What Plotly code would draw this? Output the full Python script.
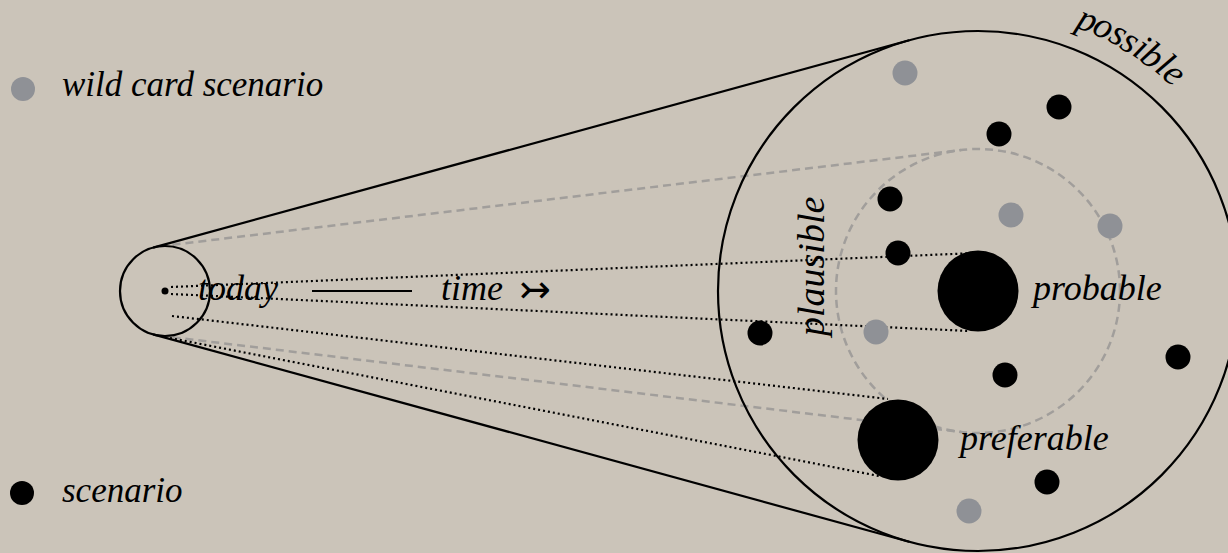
import math
import plotly.graph_objects as go

W, H = 1228, 553
BG = "#cbc4b9"
GREY_DOT = "#8f9196"
GREY_LINE = "#a19e9b"
FONT = "Liberation Serif"

# ---- data (pixel-space diagram coordinates) ----
today_center = (165, 291)
today_radius = 45
future_center = (978, 291)
possible_radius = 260
plausible_radius = 142

scenario_x = [1059, 999, 890, 898, 760, 1005, 1178, 1047]
scenario_y = [107, 134, 199, 253, 333, 375, 357, 482]
wildcard_x = [905, 1011, 1110, 876, 969]
wildcard_y = [73, 215, 226, 332, 511]
key_labels = ["probable", "preferable"]
key_x = [978, 898]
key_y = [291, 440]

path_start_x = [171, 171, 172, 170]
path_start_y = [287, 294, 316, 338]
path_end_x = [976, 969, 888, 879]
path_end_y = [253, 331, 399, 476]

# Times-italic advance widths (per 1000 em) for letter placement
ADV = {"p": 500, "o": 500, "s": 389, "i": 278, "b": 500, "l": 278,
       "e": 444, "a": 500, "u": 500}


def tangent(c1, r1, c2, r2, side):
    dx, dy = c2[0] - c1[0], c2[1] - c1[1]
    D = math.hypot(dx, dy)
    ux, uy = dx / D, dy / D
    c = (r1 - r2) / D
    s = math.sqrt(1 - c * c)
    nx = c * ux + side * s * (-uy)
    ny = c * uy + side * s * ux
    return (c1[0] + r1 * nx, c1[1] + r1 * ny, c2[0] + r2 * nx, c2[1] + r2 * ny)


shapes = []


def circle(c, r, color, width, dash="solid"):
    shapes.append(dict(type="circle", xref="x", yref="y",
                       x0=c[0] - r, x1=c[0] + r, y0=c[1] - r, y1=c[1] + r,
                       line=dict(color=color, width=width, dash=dash),
                       layer="below"))


def seg(x0, y0, x1, y1, color, width, dash="solid"):
    shapes.append(dict(type="line", xref="x", yref="y", x0=x0, y0=y0, x1=x1, y1=y1,
                       line=dict(color=color, width=width, dash=dash), layer="below"))


# grey dashed plausible cone
circle(future_center, plausible_radius, GREY_LINE, 2.5, "8px,5px")
for side in (-1, 1):
    seg(*tangent(today_center, today_radius, future_center, plausible_radius, side),
        GREY_LINE, 2.5, "8px,5px")

# dotted scenario paths
for x0, y0, x1, y1 in zip(path_start_x, path_start_y, path_end_x, path_end_y):
    seg(x0, y0, x1, y1, "#000000", 2.2, "2px,3px")

# black possible cone
circle(today_center, today_radius, "#000000", 2.2)
circle(future_center, possible_radius, "#000000", 2.2)
for side in (-1, 1):
    seg(*tangent(today_center, today_radius, future_center, possible_radius, side),
        "#000000", 2.2)

# today -- time line
seg(312, 291, 412, 291, "#000000", 2)

fig = go.Figure()
fig.add_trace(go.Scatter(x=[today_center[0]], y=[today_center[1]], mode="markers",
                         marker=dict(size=7, color="#000000"), hoverinfo="skip"))
fig.add_trace(go.Scatter(x=wildcard_x, y=wildcard_y, mode="markers",
                         marker=dict(size=25, color=GREY_DOT), hoverinfo="skip"))
fig.add_trace(go.Scatter(x=scenario_x, y=scenario_y, mode="markers",
                         marker=dict(size=25, color="#000000"), hoverinfo="skip"))
fig.add_trace(go.Scatter(x=key_x, y=key_y, mode="markers",
                         marker=dict(size=81, color="#000000"), hoverinfo="skip"))
# legend keys
fig.add_trace(go.Scatter(x=[23, 22], y=[89, 493], mode="markers",
                         marker=dict(size=24, color=[GREY_DOT, "#000000"]),
                         hoverinfo="skip"))

ann = []


def label(text, x, y, size=36, xanchor="left", family=FONT, angle=0, italic=True):
    ann.append(dict(text=f"<i>{text}</i>" if italic else text, x=x, y=y,
                    xref="x", yref="y", xanchor=xanchor, yanchor="middle",
                    showarrow=False, textangle=angle,
                    font=dict(family=family, size=size, color="#000000")))


label("wild card scenario", 60, 84, 35)
label("scenario", 60, 490, 35)
label("today", 196, 288)
label("time", 439, 288)
label("↣", 535, 289, 38, "center", "DejaVu Sans", italic=False)
label(key_labels[0], 1028, 288)
label(key_labels[1], 955, 438)

# 'possible' along the outer circle
size = 37
R = 294
theta0 = math.radians(21.8)
word = "possible"
cum = 0.0
w0 = ADV[word[0]] / 1000 * size
for ch in word:
    w = ADV[ch] / 1000 * size
    s = cum + w / 2 - w0 / 2
    th = theta0 + s / R
    label(ch, future_center[0] + R * math.sin(th), future_center[1] - R * math.cos(th),
          size, "center", angle=math.degrees(th))
    cum += w

# 'plausible' running up the inside of the circle
label("plausible", 811, 268, 38, "center", angle=-90)

fig.update_layout(
    width=W, height=H, margin=dict(l=0, r=0, t=0, b=0),
    paper_bgcolor=BG, plot_bgcolor=BG, showlegend=False,
    xaxis=dict(range=[0, W], visible=False, fixedrange=True),
    yaxis=dict(range=[H, 0], visible=False, fixedrange=True),
    shapes=shapes, annotations=ann,
)
fig.write_html("out.html", config={"displayModeBar": False},
               post_script="document.body.style.margin='0';"
                           "document.body.style.background='" + BG + "';")
